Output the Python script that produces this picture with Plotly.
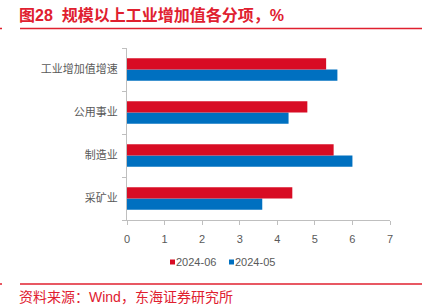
import plotly.graph_objects as go

categories = ["采矿业", "制造业", "公用事业", "工业增加值增速"]
s_jun = [4.4, 5.5, 4.8, 5.3]
s_may = [3.6, 6.0, 4.3, 5.6]
x_ticks = [0, 1, 2, 3, 4, 5, 6, 7]
series_names = ["2024-06", "2024-05"]

RED = "#D80C24"
BLUE = "#0070C0"
TITLE_RED = "#E0202F"
FONT = "Liberation Sans, Noto Sans CJK SC, sans-serif"

L, R, T, B = 127, 390, 48, 220
W, H = R - L, B - T

def px_x(px):
    return (px - L) / W

def px_y(py):
    return (B - py) / H

fig = go.Figure()
fig.add_trace(go.Bar(y=categories, x=s_may, orientation="h", name=series_names[1],
                     marker=dict(color=BLUE, line=dict(width=0)), showlegend=False))
fig.add_trace(go.Bar(y=categories, x=s_jun, orientation="h", name=series_names[0],
                     marker=dict(color=RED, line=dict(width=0)), showlegend=False))

fig.update_layout(
    width=428, height=307,
    margin=dict(l=L, r=428 - R, t=T, b=307 - B),
    paper_bgcolor="white", plot_bgcolor="white",
    barmode="group", bargap=0.48, bargroupgap=0,
    font=dict(family=FONT, size=11, color="#595959"),
    showlegend=False,
    xaxis=dict(range=[0, 7], tickvals=x_ticks, showgrid=False, zeroline=False,
               showline=True, linecolor="#BFBFBF", linewidth=1,
               ticks="outside", ticklen=4, tickcolor="#BFBFBF",
               ticklabelstandoff=5,
               tickfont=dict(size=11, color="#595959")),
    yaxis=dict(categoryorder="array", categoryarray=categories,
               showgrid=False, zeroline=False, showline=True,
               linecolor="#BFBFBF", linewidth=1, ticks="outside",
               tickson="boundaries", ticklen=4, tickcolor="#BFBFBF",
               tickfont=dict(size=11, color="#595959"), ticksuffix="  "),
)

# legend (small squares + labels)
legend_items = [(series_names[0], RED, 170), (series_names[1], BLUE, 229)]
for name, col, sx in legend_items:
    fig.add_shape(type="rect", xref="paper", yref="paper",
                  x0=px_x(sx), x1=px_x(sx + 5), y0=px_y(264.5), y1=px_y(259.5),
                  fillcolor=col, line=dict(width=0))
    fig.add_annotation(text=name, xref="paper", yref="paper",
                       x=px_x(sx + 6.5), y=px_y(262), xanchor="left", yanchor="middle",
                       showarrow=False, xshift=-3,
                       font=dict(size=11, color="#595959", family=FONT))

fig.add_annotation(text="<b>图28  规模以上工业增加值各分项，%</b>", xref="paper", yref="paper",
                   x=px_x(20), y=px_y(15), xanchor="left", yanchor="middle", xshift=-3,
                   showarrow=False, font=dict(size=16, color=TITLE_RED, family=FONT))
fig.add_annotation(text="资料来源：Wind，东海证券研究所", xref="paper", yref="paper",
                   x=px_x(20), y=px_y(297), xanchor="left", yanchor="middle", xshift=-3,
                   showarrow=False, font=dict(size=14, color=TITLE_RED, family=FONT))

for yy in (28.5, 284):
    fig.add_shape(type="line", xref="paper", yref="paper",
                  x0=px_x(20), x1=px_x(422), y0=px_y(yy), y1=px_y(yy),
                  line=dict(color=TITLE_RED, width=1.5))
    fig.add_shape(type="line", xref="paper", yref="paper",
                  x0=px_x(0), x1=px_x(2), y0=px_y(yy), y1=px_y(yy),
                  line=dict(color=TITLE_RED, width=1.5))

fig.write_html("out.html")
